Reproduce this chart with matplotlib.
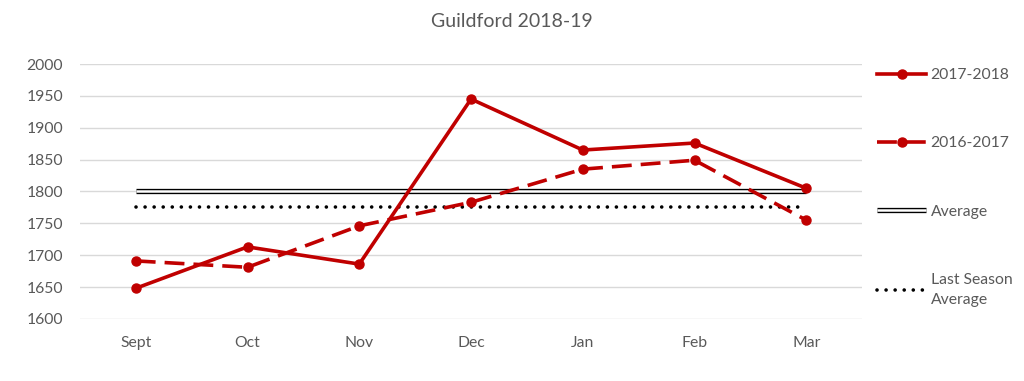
import matplotlib.pyplot as plt
import matplotlib.patheffects as pe

months = ['Sept', 'Oct', 'Nov', 'Dec', 'Jan', 'Feb', 'Mar']
season_1718 = [1648, 1713, 1686, 1945, 1865, 1876, 1805]
season_1617 = [1691, 1681, 1746, 1783, 1835, 1849, 1755]
average = [1800] * 7
last_season_avg = [1776] * 7

red = '#c00000'
grey = '#595959'

plt.rcParams['font.family'] = ['Lato', 'DejaVu Sans']
fig = plt.figure(figsize=(10.24, 3.81), dpi=100)
ax = fig.add_axes([0.078, 0.163, 0.764, 0.669])

x = range(len(months))
ax.plot(x, average, color='white', lw=1.8, label='Average', zorder=3,
        solid_capstyle='butt',
        path_effects=[pe.Stroke(linewidth=3.8, foreground='black'), pe.Normal()])
ax.plot(x, last_season_avg, color='black', lw=2.6, linestyle=(0, (0.01, 2.5)),
        dash_capstyle='round', label='Last Season\nAverage', zorder=3)
ax.plot(x, season_1617, color=red, lw=2.6, linestyle=(0, (5.5, 2.5)),
        marker='o', markersize=6.5, label='2016-2017', zorder=4)
ax.plot(x, season_1718, color=red, lw=2.6, marker='o', markersize=6.5,
        label='2017-2018', zorder=5)

ax.set_xlim(-0.5, 6.5)
ax.set_ylim(1600, 2000)
ax.set_yticks(range(1600, 2001, 50))
ax.set_xticks(list(x))
ax.set_xticklabels(months)
ax.grid(axis='y', color='#d9d9d9', lw=1)
ax.set_axisbelow(True)
for s in ax.spines.values():
    s.set_visible(False)
ax.tick_params(length=0, labelsize=11.3, colors=grey)
ax.tick_params(axis='x', pad=12)
ax.tick_params(axis='y', pad=12)

fig.suptitle('Guildford 2018-19', y=0.965, fontsize=14, color=grey)

handles, labels = ax.get_legend_handles_labels()
order = [3, 2, 0, 1]
leg = fig.legend([handles[i] for i in order], [labels[i] for i in order],
                 loc='upper left', bbox_to_anchor=(0.843, 0.858), frameon=False,
                 fontsize=11.3, labelcolor=grey, handlelength=3.1,
                 handletextpad=0.3, labelspacing=3.45)
leg.get_texts()[3].set_linespacing(1.6)

fig.savefig('out.png', dpi=100)
